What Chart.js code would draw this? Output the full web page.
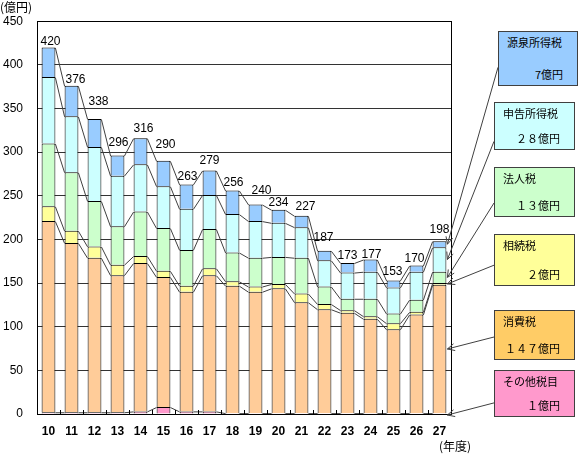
<!DOCTYPE html>
<html>
<head>
<meta charset="utf-8">
<script src="https://cdn.jsdelivr.net/npm/chart.js@4/dist/chart.umd.min.js"></script>
<style>
  body { margin: 0; background: #fff; }
  #wrap { position: relative; width: 580px; height: 455px; font-family: "Liberation Sans", "Noto Sans CJK JP", sans-serif; }
  #taxChart { position: absolute; left: 0; top: 0; }
  .note { position: absolute; font-size: 12px; color: #000; font-family: "Noto Sans CJK JP", sans-serif; line-height: 14px; }
  .box { position: absolute; border: 1px solid #404040; box-sizing: border-box; font-family: "Noto Sans CJK JP", sans-serif; font-size: 11px; color: #000; }
  .box .t { position: absolute; left: 8px; top: 2px; }
  .box .v { position: absolute; right: 14px; bottom: 3px; }
</style>
</head>
<body>
<div id="wrap">
  <canvas id="taxChart" width="580" height="455"></canvas>
  <div class="note" style="left:0px;top:0px;">(億円)</div>
  <div class="note" style="left:439px;top:439px;">(年度)</div>
</div>
<script>
// fiscal years (Heisei)
const years = ["10", "11", "12", "13", "14", "15", "16", "17", "18", "19", "20", "21", "22", "23", "24", "25", "26", "27"];

// values in 億円, bottom of the stack first
const otherTax = [2, 2, 2, 2, 3, 8, 3, 3, 1, 1, 1, 1, 1, 1, 1, 1, 1, 1];
const consumptionTax = [219, 194, 177, 157, 170, 149, 137, 156, 146, 139, 143, 127, 119, 115, 108, 96, 113, 147];
const inheritanceTax = [17, 14, 13, 12, 8, 7, 7, 8, 5, 6, 5, 10, 6, 3, 3, 7, 3, 2];
const corporateTax = [72, 67, 52, 44, 51, 49, 41, 45, 33, 33, 31, 41, 20, 13, 20, 11, 14, 13];
const declaredIncomeTax = [76, 64, 62, 58, 54, 48, 47, 39, 44, 42, 39, 35, 30, 30, 31, 30, 32, 28];
const withholdingTax = [34, 35, 32, 23, 30, 29, 28, 28, 27, 19, 15, 13, 11, 11, 14, 8, 7, 7];

// totals printed above each bar
const totals = [420, 376, 338, 296, 316, 290, 263, 279, 256, 240, 234, 227, 187, 173, 177, 153, 170, 198];

// callout boxes (top to bottom), for the last year
const calloutNames = ["源泉所得税", "申告所得税", "法人税", "相続税", "消費税", "その他税目"];
const calloutValues = ["7億円", "２８億円", "１３億円", "２億円", "１４７億円", "１億円"];

const yTicks = [0, 50, 100, 150, 200, 250, 300, 350, 400, 450];

// nudges for the total labels (px), as placed in the original
const labelDx = [2, 4, 4, 1, 3, 2, 1, 0, 1, 6, 0, 4, -1, 0, 1, -1, -2, 0];
const labelDy = [6, 6, 17, 13, 9, 16, 8, 10, 8, 14, 7, 9, 13, 7, 5, 9, 7, 11];

// callout box layout: dataset index it points at, position and colour
const boxes = [
  { ds: 5, left: 498, top: 31, w: 80, h: 55, color: "#99ccff", frac: 0.66 },
  { ds: 4, left: 494, top: 102, w: 81, h: 48, color: "#ccffff", frac: 0.82 },
  { ds: 3, left: 494, top: 167, w: 81, h: 50, color: "#ccffcc", frac: 0.72 },
  { ds: 2, left: 494, top: 234, w: 81, h: 52, color: "#ffff99", frac: 0.6 },
  { ds: 1, left: 494, top: 310, w: 81, h: 50, color: "#ffcc66", frac: 0.54 },
  { ds: 0, left: 494, top: 370, w: 81, h: 47, color: "#ff99cc", frac: 0.7 },
];

const wrap = document.getElementById("wrap");
boxes.forEach((b, i) => {
  const d = document.createElement("div");
  d.className = "box";
  d.style.left = b.left + "px";
  d.style.top = b.top + "px";
  d.style.width = b.w + "px";
  d.style.height = b.h + "px";
  d.style.background = b.color;
  d.innerHTML = '<span class="t">' + calloutNames[i] + '</span><span class="v">' + calloutValues[i] + "</span>";
  wrap.appendChild(d);
});

function makeSet(label, data, color) {
  return {
    label: label,
    data: data,
    backgroundColor: color,
    borderColor: "#000000",
    // only top and sides, so stacked segments share a single line
    borderWidth: { top: 1, left: 1, right: 1, bottom: 0 },
    borderSkipped: false,
    categoryPercentage: 1.0,
    barPercentage: 0.6,
  };
}

// lines between bars, totals, inner ticks, callout arrows
const extras = {
  id: "extras",
  afterDatasetsDraw(chart) {
    const ctx = chart.ctx;
    const area = chart.chartArea;
    const n = years.length;
    ctx.save();

    // series lines joining the top of each segment
    ctx.strokeStyle = "#404040";
    ctx.lineWidth = 1;
    chart.data.datasets.forEach((ds, di) => {
      const meta = chart.getDatasetMeta(di);
      for (let i = 0; i < n - 1; i++) {
        const a = meta.data[i];
        const b = meta.data[i + 1];
        ctx.beginPath();
        ctx.moveTo(a.x + a.width / 2, a.y + 0.5);
        ctx.lineTo(b.x - b.width / 2, b.y + 0.5);
        ctx.stroke();
      }
    });

    // total labels
    const topMeta = chart.getDatasetMeta(chart.data.datasets.length - 1);
    ctx.fillStyle = "#000";
    ctx.font = '12px "Liberation Sans", Arial, sans-serif';
    ctx.textAlign = "center";
    ctx.textBaseline = "middle";
    topMeta.data.forEach((el, i) => {
      ctx.fillText(String(totals[i]), el.x + labelDx[i], el.y - labelDy[i]);
    });

    // small ticks on the x axis between categories, pointing inside
    const xs = chart.scales.x;
    ctx.strokeStyle = "#000";
    for (let i = 0; i <= n; i++) {
      const px = Math.round(xs.getPixelForValue(i - 0.5)) + 0.5;
      ctx.beginPath();
      ctx.moveTo(px, area.bottom);
      ctx.lineTo(px, area.bottom - 4);
      ctx.stroke();
    }

    // plot frame
    ctx.strokeStyle = "#000";
    ctx.strokeRect(Math.round(area.left) + 0.5, Math.round(area.top) + 0.5,
      Math.round(area.right - area.left), Math.round(area.bottom - area.top));

    // arrows from the callout boxes to the last bar
    const ys = chart.scales.y;
    ctx.strokeStyle = "#404040";
    boxes.forEach((b) => {
      const el = chart.getDatasetMeta(b.ds).data[n - 1];
      const midY = (el.y + el.base) / 2;
      const ex = el.x + el.width / 2 + 1;
      const ey = b.ds === 0 ? area.bottom + 1 : midY;
      const sx = b.left;
      const sy = b.top + b.h * b.frac;
      ctx.beginPath();
      ctx.moveTo(sx, sy);
      ctx.lineTo(ex, ey);
      const ang = Math.atan2(ey - sy, ex - sx);
      const len = 8;
      ctx.moveTo(ex, ey);
      ctx.lineTo(ex - len * Math.cos(ang - 0.45), ey - len * Math.sin(ang - 0.45));
      ctx.moveTo(ex, ey);
      ctx.lineTo(ex - len * Math.cos(ang + 0.45), ey - len * Math.sin(ang + 0.45));
      ctx.stroke();
    });

    ctx.restore();
  },
};

new Chart(document.getElementById("taxChart"), {
  type: "bar",
  data: {
    labels: years,
    datasets: [
      makeSet("その他税目", otherTax, "#ff99cc"),
      makeSet("消費税", consumptionTax, "#ffcc99"),
      makeSet("相続税", inheritanceTax, "#ffff99"),
      makeSet("法人税", corporateTax, "#ccffcc"),
      makeSet("申告所得税", declaredIncomeTax, "#ccffff"),
      makeSet("源泉所得税", withholdingTax, "#99ccff"),
    ],
  },
  options: {
    responsive: false,
    animation: false,
    layout: { padding: { top: 21, right: 129, left: 1, bottom: 0 } },
    plugins: {
      legend: { display: false },
      tooltip: { enabled: false },
    },
    scales: {
      x: {
        stacked: true,
        grid: { display: false, drawTicks: false },
        border: { color: "#000" },
        ticks: {
          color: "#000",
          padding: 10,
          font: { size: 12, weight: "bold", family: "Liberation Sans, Arial, sans-serif" },
        },
        afterFit(scale) { scale.height = 41; },
      },
      y: {
        stacked: true,
        min: 0,
        max: 450,
        afterBuildTicks(scale) { scale.ticks = yTicks.map((v) => ({ value: v })); },
        grid: { color: "#333333", drawTicks: false },
        border: { color: "#000" },
        ticks: {
          color: "#000",
          padding: 14,
          font: { size: 12, family: "Liberation Sans, Arial, sans-serif" },
        },
        afterFit(scale) { scale.width = 36; },
      },
    },
  },
  plugins: [extras],
});
</script>
</body>
</html>
